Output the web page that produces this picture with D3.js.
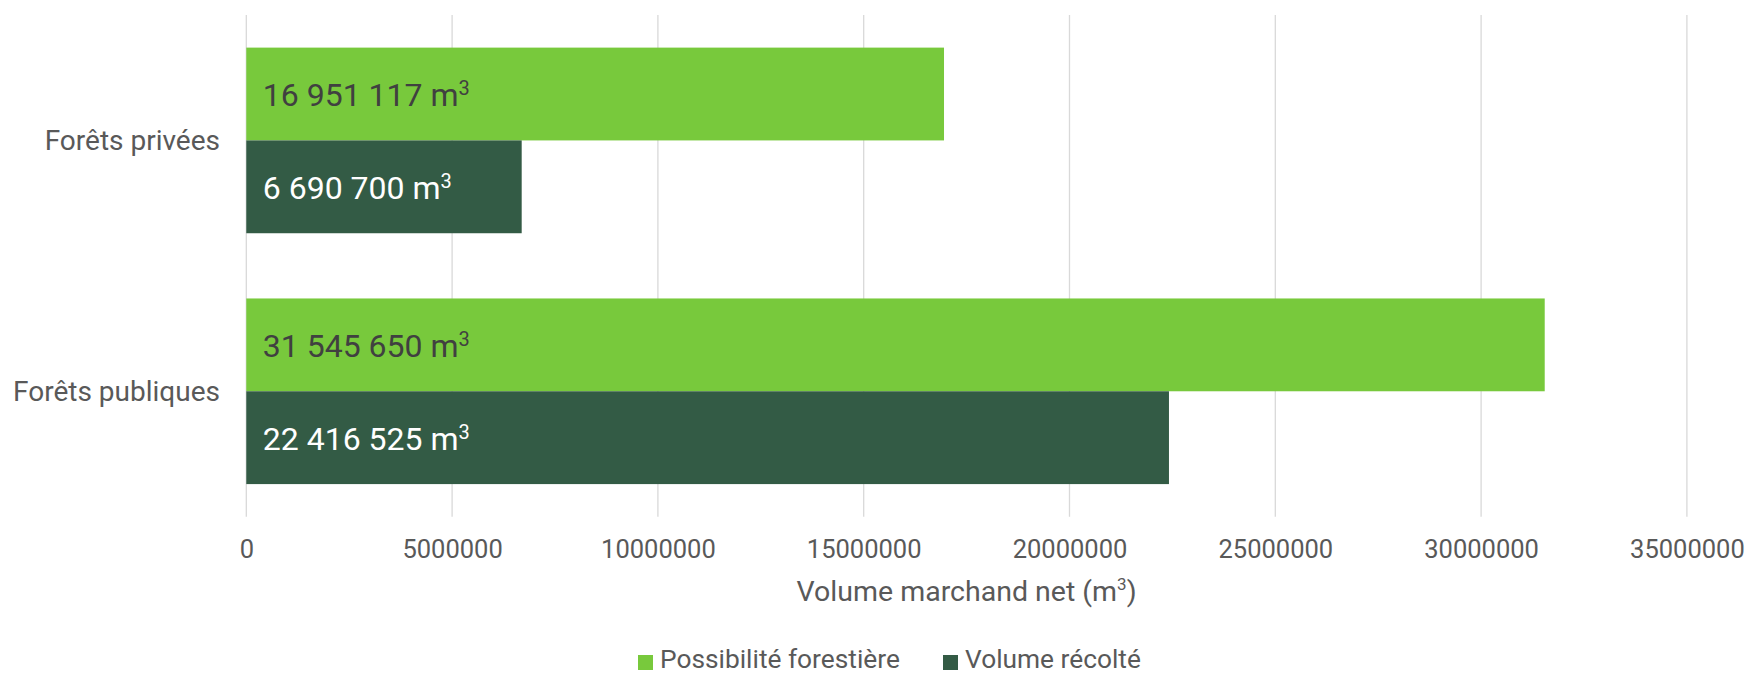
<!DOCTYPE html>
<html>
<head>
<meta charset="utf-8">
<script src="https://cdn.jsdelivr.net/npm/d3@7"></script>
<style>
  html, body { margin: 0; padding: 0; background: #ffffff; }
  svg { display: block; font-family: Roboto, "Noto Sans", sans-serif; }
</style>
</head>
<body>
<svg id="chart" width="1747" height="675"></svg>
<script>
const categories = ["Forêts privées", "Forêts publiques"];
const seriesNames = ["Possibilité forestière", "Volume récolté"];
const possibilite = [16951117, 31545650];
const recolte = [6690700, 22416525];
const valueLabels = [["16 951 117", "31 545 650"], ["6 690 700", "22 416 525"]];
const tickValues = [0, 5000000, 10000000, 15000000, 20000000, 25000000, 30000000, 35000000];
const axisTitle = "Volume marchand net (m";

const colors = ["#78C93C", "#335B45"];
const labelColors = ["#404040", "#ffffff"];
const textColor = "#595959";

const svg = d3.select("#chart");
const plotLeft = 246.3, plotRight = 1686.9, plotTop = 15, plotBottom = 516.7;

const x = d3.scaleLinear().domain([0, 35000000]).range([plotLeft, plotRight]);
const y = d3.scaleBand().domain(categories).range([plotTop, plotBottom]).paddingInner(0.26).paddingOuter(0.13);
const ySub = d3.scaleBand().domain(seriesNames).range([0, y.bandwidth()]);

// gridlines
svg.append("g").selectAll("line").data(tickValues).join("line")
  .attr("x1", d => x(d)).attr("x2", d => x(d))
  .attr("y1", plotTop).attr("y2", plotBottom)
  .attr("stroke", "#D9D9D9").attr("stroke-width", 1.3);

// x axis tick labels
const xAxis = d3.axisBottom(x).tickValues(tickValues).tickFormat(d3.format("d")).tickSize(0).tickPadding(0);
const gx = svg.append("g").attr("transform", `translate(0,${plotBottom})`).call(xAxis);
gx.select(".domain").remove();
gx.selectAll("text").attr("fill", textColor).attr("font-size", 25.5).attr("font-family", "Roboto")
  .attr("dy", null).attr("y", 41.5);

// bars
const series = [possibilite, recolte];
series.forEach((vals, si) => {
  const g = svg.append("g");
  g.selectAll("rect").data(categories).join("rect")
    .attr("x", x(0))
    .attr("y", c => y(c) + ySub(seriesNames[si]))
    .attr("width", (c, i) => x(vals[i]) - x(0))
    .attr("height", ySub.bandwidth())
    .attr("fill", colors[si]);
  const t = g.selectAll("text").data(categories).join("text")
    .attr("x", x(0) + 16.5)
    .attr("y", c => y(c) + ySub(seriesNames[si]) + ySub.bandwidth() / 2 + 12)
    .attr("fill", labelColors[si])
    .attr("font-size", 32);
  t.append("tspan").text((c, i) => valueLabels[si][i] + " m");
  t.append("tspan").attr("font-size", 20).attr("dy", -11).text("3");
});

// category labels
svg.append("g").selectAll("text").data(categories).join("text")
  .attr("x", 220).attr("y", c => y(c) + y.bandwidth() / 2 + 9.5)
  .attr("text-anchor", "end").attr("fill", textColor).attr("font-size", 28)
  .text(c => c);

// axis title
const at = svg.append("text").attr("x", (plotLeft + plotRight) / 2).attr("y", 601)
  .attr("text-anchor", "middle").attr("fill", textColor).attr("font-size", 28.5);
at.append("tspan").text(axisTitle);
at.append("tspan").attr("font-size", 17).attr("dy", -11).text("3");
at.append("tspan").attr("dy", 11).text(")");

// legend
const legendX = [638, 943];
const lg = svg.append("g");
seriesNames.forEach((s, i) => {
  lg.append("rect").attr("x", legendX[i]).attr("y", 655).attr("width", 15).attr("height", 15).attr("fill", colors[i]);
  lg.append("text").attr("x", legendX[i] + 22).attr("y", 668).attr("fill", textColor).attr("font-size", 26.3).text(s);
});
</script>
</body>
</html>
